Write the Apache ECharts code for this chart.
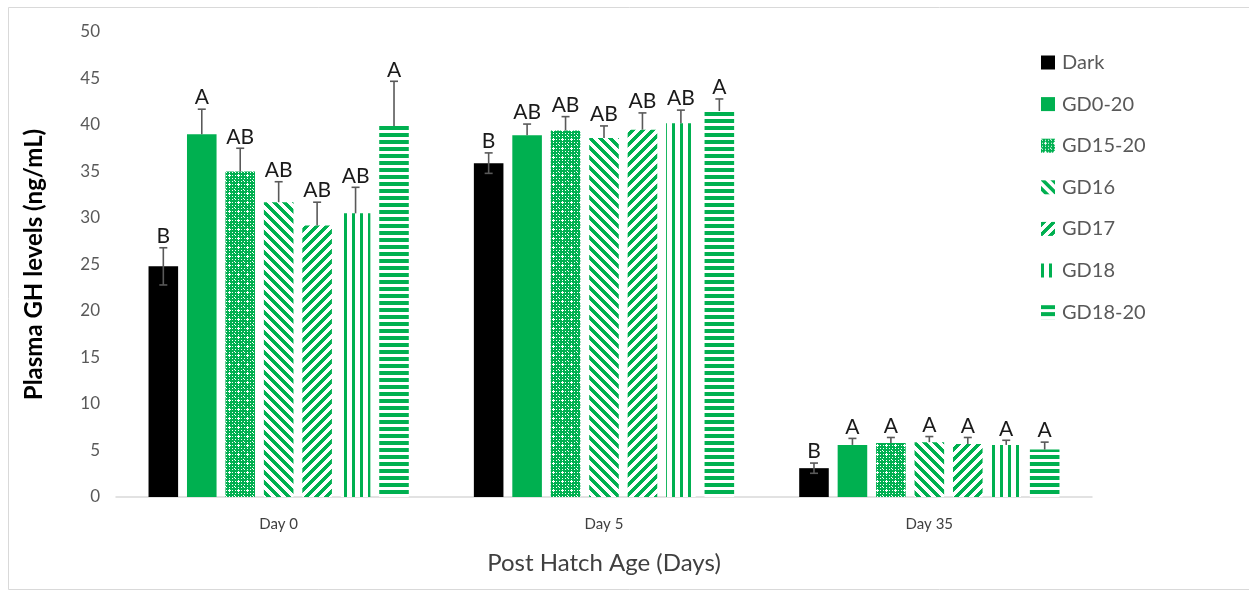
<!DOCTYPE html>
<html>
<head>
<meta charset="utf-8">
<script src="https://cdn.jsdelivr.net/npm/echarts@6/dist/echarts.min.js"></script>
<style>
  html, body { margin: 0; padding: 0; background: #fff; }
  #chart { width: 1249px; height: 597px; }
</style>
</head>
<body>
<div id="chart"></div>
<script>
// Plasma GH by post-hatch age and lighting treatment
const categories = ['Day 0', 'Day 5', 'Day 35'];
const seriesNames = ['Dark', 'GD0-20', 'GD15-20', 'GD16', 'GD17', 'GD18', 'GD18-20'];

// means (ng/mL) per treatment, ordered as categories
const dark   = [24.8, 35.9, 3.1];
const gd0_20 = [39.0, 38.9, 5.6];
const gd15_20 = [35.0, 39.4, 5.8];
const gd16   = [31.7, 38.6, 5.9];
const gd17   = [29.2, 39.5, 5.7];
const gd18   = [30.5, 40.2, 5.6];
const gd18_20 = [39.9, 41.5, 5.1];

// standard errors
const darkErr   = [2.0, 1.1, 0.55];
const gd0_20Err = [2.7, 1.2, 0.7];
const gd15_20Err = [2.5, 1.5, 0.6];
const gd16Err   = [2.2, 1.3, 0.6];
const gd17Err   = [2.5, 1.8, 0.7];
const gd18Err   = [2.8, 1.4, 0.5];
const gd18_20Err = [4.8, 1.3, 0.8];

// significance letters per treatment
const darkSig   = ['B', 'B', 'B'];
const gd0_20Sig = ['A', 'AB', 'A'];
const gd15_20Sig = ['AB', 'AB', 'A'];
const gd16Sig   = ['AB', 'AB', 'A'];
const gd17Sig   = ['AB', 'AB', 'A'];
const gd18Sig   = ['AB', 'AB', 'A'];
const gd18_20Sig = ['A', 'A', 'A'];

const yTicks = { min: 0, max: 50, interval: 5 };

const means = [dark, gd0_20, gd15_20, gd16, gd17, gd18, gd18_20];
const errs = [darkErr, gd0_20Err, gd15_20Err, gd16Err, gd17Err, gd18Err, gd18_20Err];
const sigs = [darkSig, gd0_20Sig, gd15_20Sig, gd16Sig, gd17Sig, gd18Sig, gd18_20Sig];

const GREEN = '#00b050';

// Fill patterns drawn pixel by pixel on small tiles
function tile(size, test) {
  const c = document.createElement('canvas');
  c.width = size; c.height = size;
  const ctx = c.getContext('2d');
  ctx.fillStyle = '#ffffff';
  ctx.fillRect(0, 0, size, size);
  ctx.fillStyle = GREEN;
  for (let y = 0; y < size; y++) {
    for (let x = 0; x < size; x++) {
      if (test(x, y)) ctx.fillRect(x, y, 1, 1);
    }
  }
  return { image: c, repeat: 'repeat' };
}
const patternGrid = tile(9, (x, y) => {
  // green mesh with white dots and small white crosses
  if (x % 3 === 1 && y % 3 === 1) return false;
  if ((x === 4 && (y === 3 || y === 5)) || (y === 4 && (x === 3 || x === 5))) return false;
  if (x === 0 && y === 0) return false;
  return true;
});
const patternDown = tile(10, (x, y) => ((x - y) % 10 + 10) % 10 < 5);
const patternUp = tile(10, (x, y) => (x + y) % 10 < 5);
const patternVert = tile(8, (x, y) => x % 8 < 3);
const patternHorz = tile(7, (x, y) => y % 7 < 4);

const fills = ['#000000', GREEN, patternGrid, patternDown, patternUp, patternVert, patternHorz];

const CAT_GAP = 0.2, BAR_GAP = 0.3;

const barSeries = seriesNames.map((name, i) => ({
  name: name,
  type: 'bar',
  data: means[i],
  barCategoryGap: (CAT_GAP * 100) + '%',
  barGap: (BAR_GAP * 100) + '%',
  itemStyle: { color: fills[i] },
  emphasis: { disabled: true },
  z: 2
}));

// error bars + significance letters
const errData = [];
seriesNames.forEach((name, si) => {
  categories.forEach((c, ci) => {
    errData.push([ci, si, means[si][ci], errs[si][ci], si === 0 ? errs[si][ci] : 0]);
  });
});
const errLetters = [];
seriesNames.forEach((name, si) => {
  categories.forEach((c, ci) => errLetters.push(sigs[si][ci]));
});

const errSeries = {
  type: 'custom',
  name: 'err',
  z: 5,
  silent: true,
  encode: { x: 0, y: 2 },
  data: errData,
  renderItem: function (params, api) {
    const ci = api.value(0), si = api.value(1), v = api.value(2);
    const ep = api.value(3), em = api.value(4);
    const n = seriesNames.length;
    const band = api.size([1, 0])[0];
    const usable = band * (1 - CAT_GAP);
    const w = usable / (n + (n - 1) * BAR_GAP);
    const cx = api.coord([ci, 0])[0] - usable / 2 + si * w * (1 + BAR_GAP) + w / 2;
    const yTop = api.coord([ci, v + ep])[1];
    const yBot = api.coord([ci, v - em])[1];
    const cap = 4;
    const st = { stroke: '#595959', lineWidth: 1.6 };
    const children = [
      { type: 'line', shape: { x1: cx, y1: yTop, x2: cx, y2: yBot }, style: st },
      { type: 'line', shape: { x1: cx - cap, y1: yTop, x2: cx + cap, y2: yTop }, style: st }
    ];
    if (em > 0) {
      children.push({ type: 'line', shape: { x1: cx - cap, y1: yBot, x2: cx + cap, y2: yBot }, style: st });
    }
    children.push({
      type: 'text',
      style: {
        x: cx, y: yTop - 1,
        text: errLetters[params.dataIndex],
        align: 'center', verticalAlign: 'bottom',
        font: '21px Lato', fill: '#1a1a1a'
      }
    });
    return { type: 'group', children: children };
  }
};

const chart = echarts.init(document.getElementById('chart'), null, { renderer: 'canvas' });
chart.setOption({
  animation: false,
  backgroundColor: '#ffffff',
  textStyle: { fontFamily: 'Lato' },
  graphic: [{
    type: 'rect',
    shape: { x: 8.5, y: 7.5, width: 1260, height: 582 },
    style: { fill: 'none', stroke: '#d9d9d9', lineWidth: 1 },
    silent: true, z: -1
  }],
  grid: { left: 116, right: 157, top: 32, bottom: 100, containLabel: false },
  legend: {
    orient: 'vertical',
    left: 1036,
    top: 46,
    itemWidth: 14,
    itemHeight: 14,
    itemGap: 18.6,
    icon: 'rect',
    data: seriesNames,
    textStyle: { fontFamily: 'Lato', fontSize: 20, lineHeight: 23, color: '#595959', padding: [0, 0, 0, 2] }
  },
  xAxis: {
    type: 'category',
    data: categories,
    axisLine: { lineStyle: { color: '#d9d9d9', width: 1.5 } },
    axisTick: { show: false },
    axisLabel: { fontFamily: 'Lato', fontSize: 15, color: '#404040', margin: 20 },
    name: 'Post Hatch Age (Days)',
    nameLocation: 'middle',
    nameGap: 54,
    nameTextStyle: { fontFamily: 'Lato', fontSize: 24, color: '#404040' }
  },
  yAxis: {
    type: 'value',
    min: yTicks.min, max: yTicks.max, interval: yTicks.interval,
    splitLine: { show: false },
    axisLine: { show: false },
    axisTick: { show: false },
    axisLabel: { fontFamily: 'Lato', fontSize: 17, color: '#595959', margin: 16 },
    name: 'Plasma GH levels (ng/mL)',
    nameLocation: 'middle',
    nameGap: 70,
    nameTextStyle: { fontFamily: 'Lato', fontSize: 24, fontWeight: 'bold', color: '#000000' }
  },
  series: barSeries.concat([errSeries])
});
</script>
</body>
</html>
